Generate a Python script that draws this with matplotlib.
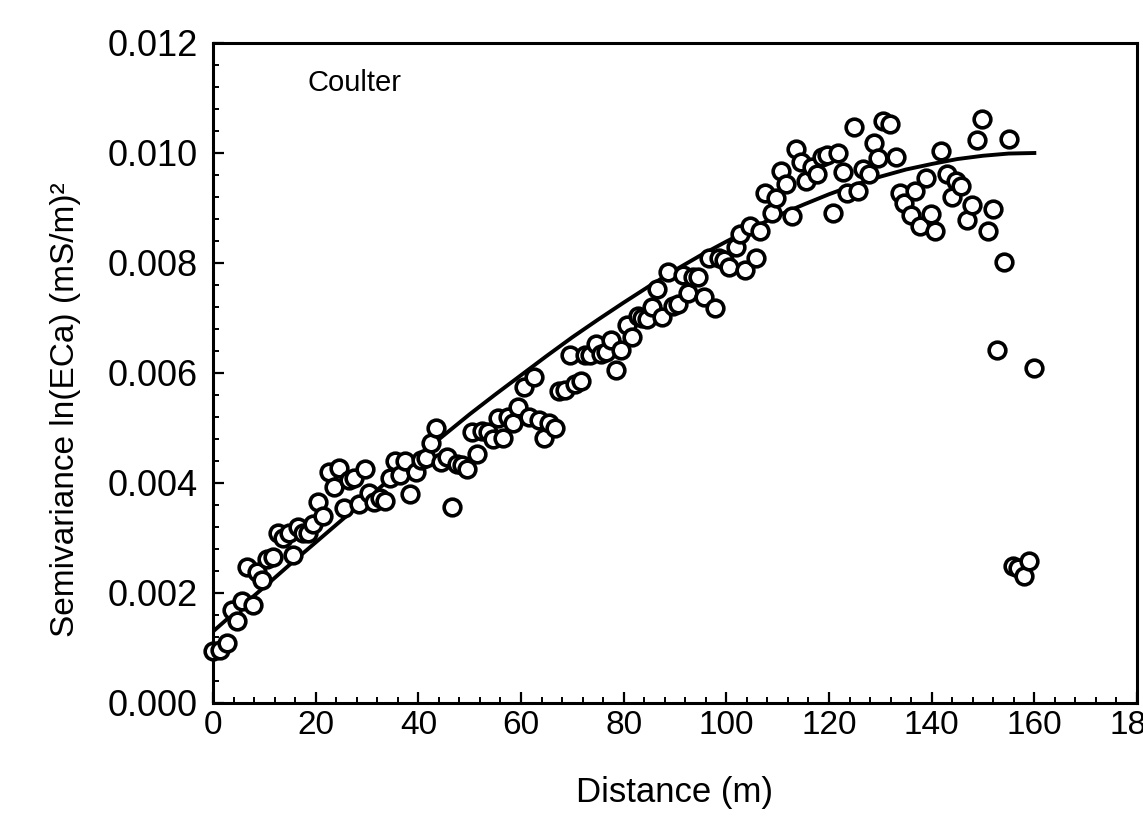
import matplotlib
matplotlib.use("Agg")
import matplotlib.pyplot as plt
from matplotlib.ticker import MultipleLocator, FormatStrFormatter

plt.rcParams['font.family'] = ['Liberation Sans', 'DejaVu Sans']

# Observed semivariance points
distance = [0, 1.4, 2.7, 3.7, 4.7, 5.7, 6.6, 7.8, 8.6, 9.6, 10.5, 11.7, 12.7, 13.6, 14.8,
            15.6, 16.6, 17.5, 18.5, 19.5, 20.5, 21.4, 22.6, 23.6, 24.6, 25.5, 26.5, 27.5,
            28.5, 29.6, 30.4, 31.4, 32.6, 33.5, 34.5, 35.5, 36.5, 37.4, 38.4, 39.6, 40.5,
            41.5, 42.5, 43.5, 44.4, 45.6, 46.6, 47.6, 48.5, 49.5, 50.5, 51.5, 52.4, 53.6,
            54.6, 55.6, 56.5, 57.5, 58.5, 59.5, 60.6, 61.6, 62.6, 63.5, 64.5, 65.5, 66.7,
            67.4, 68.6, 69.6, 70.6, 71.7, 72.5, 73.5, 74.7, 75.6, 76.6, 77.6, 78.6, 79.5,
            80.7, 81.7, 82.7, 83.6, 84.6, 85.6, 86.5, 87.5, 88.7, 89.7, 90.6, 91.6, 92.6,
            93.6, 94.5, 95.7, 96.7, 97.7, 98.6, 99.6, 100.6, 101.8, 102.7, 103.7, 104.7,
            105.7, 106.6, 107.6, 108.8, 109.7, 110.7, 111.7, 112.7, 113.6, 114.6, 115.6,
            116.6, 117.7, 118.7, 119.7, 120.7, 121.8, 122.8, 123.6, 124.8, 125.7, 126.7,
            127.7, 128.7, 129.6, 130.6, 131.8, 133.0, 133.9, 134.7, 135.9, 136.8, 137.8,
            138.8, 139.8, 140.7, 141.9, 142.9, 143.9, 144.8, 145.8, 146.8, 147.8, 148.9,
            149.9, 150.9, 151.9, 152.8, 154.0, 155.0, 155.8, 156.9, 157.9, 159.0, 160.0]
semivariance = [0.00095, 0.00096, 0.00110, 0.00170, 0.00150, 0.00185, 0.00247, 0.00178,
                0.00238, 0.00224, 0.00262, 0.00265, 0.00310, 0.00300, 0.00310, 0.00270,
                0.00320, 0.00310, 0.00310, 0.00325, 0.00365, 0.00340, 0.00420, 0.00392,
                0.00428, 0.00355, 0.00405, 0.00410, 0.00362, 0.00425, 0.00382, 0.00365,
                0.00372, 0.00368, 0.00410, 0.00440, 0.00415, 0.00440, 0.00380, 0.00420,
                0.00442, 0.00445, 0.00472, 0.00500, 0.00438, 0.00448, 0.00356, 0.00435,
                0.00432, 0.00425, 0.00492, 0.00452, 0.00495, 0.00492, 0.00480, 0.00518,
                0.00482, 0.00520, 0.00510, 0.00538, 0.00575, 0.00520, 0.00592, 0.00515,
                0.00482, 0.00510, 0.00500, 0.00568, 0.00570, 0.00632, 0.00580, 0.00585,
                0.00632, 0.00632, 0.00652, 0.00635, 0.00638, 0.00660, 0.00605, 0.00642,
                0.00688, 0.00665, 0.00703, 0.00700, 0.00698, 0.00720, 0.00752, 0.00702,
                0.00783, 0.00722, 0.00725, 0.00778, 0.00745, 0.00775, 0.00775, 0.00738,
                0.00810, 0.00718, 0.00810, 0.00805, 0.00793, 0.00830, 0.00853, 0.00788,
                0.00867, 0.00810, 0.00858, 0.00927, 0.00891, 0.00918, 0.00967, 0.00944,
                0.00885, 0.01007, 0.00984, 0.00949, 0.00975, 0.00962, 0.00993, 0.00996,
                0.00891, 0.01000, 0.00965, 0.00927, 0.01047, 0.00931, 0.00971, 0.00962,
                0.01018, 0.00991, 0.01058, 0.01053, 0.00993, 0.00927, 0.00909, 0.00887,
                0.00931, 0.00867, 0.00955, 0.00889, 0.00858, 0.01004, 0.00962, 0.00920,
                0.00949, 0.00940, 0.00878, 0.00905, 0.01024, 0.01062, 0.00858, 0.00898,
                0.00642, 0.00802, 0.01025, 0.00249, 0.00245, 0.00231, 0.00258, 0.00610]

# Fitted model curve
model_distance = [0, 5, 10, 15, 20, 25, 30, 35, 40, 45, 50, 55, 60, 65, 70, 75, 80, 85,
                  90, 95, 100, 105, 110, 115, 120, 125, 130, 135, 140, 145, 150, 155, 160]
model_value = [0.00130, 0.00171, 0.00211, 0.00252, 0.00292, 0.00332, 0.00372, 0.00411,
               0.00449, 0.00487, 0.00525, 0.00561, 0.00596, 0.00631, 0.00665, 0.00697,
               0.00728, 0.00758, 0.00787, 0.00814, 0.00839, 0.00863, 0.00886, 0.00906,
               0.00925, 0.00942, 0.00957, 0.00970, 0.00980, 0.00989, 0.00995, 0.00999,
               0.01000]

x_ticks = [0, 20, 40, 60, 80, 100, 120, 140, 160, 180]
y_ticks = [0.000, 0.002, 0.004, 0.006, 0.008, 0.010, 0.012]

fig = plt.figure(figsize=(11.43, 8.33), dpi=100)
ax = fig.add_axes([213/1143, 1 - 703/833, 924/1143, 660/833])

ax.plot(model_distance, model_value, color='black', lw=2.8, zorder=2,
        solid_joinstyle='round')
ax.plot(distance, semivariance, linestyle='none', marker='o', ms=12,
        mfc='white', mec='black', mew=2.6, zorder=3, clip_on=False)

ax.set_xlim(0, 180)
ax.set_ylim(0, 0.012)
ax.set_xticks(x_ticks)
ax.set_yticks(y_ticks)
ax.xaxis.set_minor_locator(MultipleLocator(4))
ax.yaxis.set_minor_locator(MultipleLocator(0.0004))
ax.yaxis.set_major_formatter(FormatStrFormatter('%.3f'))

for s in ax.spines.values():
    s.set_linewidth(2.2)

ax.tick_params(axis='both', which='major', direction='in', length=8, width=1.6,
               top=False, right=False)
ax.tick_params(axis='both', which='minor', direction='in', length=4.5, width=1.4,
               top=False, right=False)
ax.tick_params(axis='y', labelsize=26, pad=11)
ax.tick_params(axis='x', labelsize=24, pad=5)

ax.set_xlabel('Distance (m)', fontsize=25, labelpad=25)
ax.set_ylabel('Semivariance ln(ECa) (mS/m)²', fontsize=24)
ax.yaxis.set_label_coords(-0.143, 0.445)

ax.text(0.102, 0.94, 'Coulter', transform=ax.transAxes, fontsize=21,
        ha='left', va='center')

fig.savefig('out.png', dpi=100)
